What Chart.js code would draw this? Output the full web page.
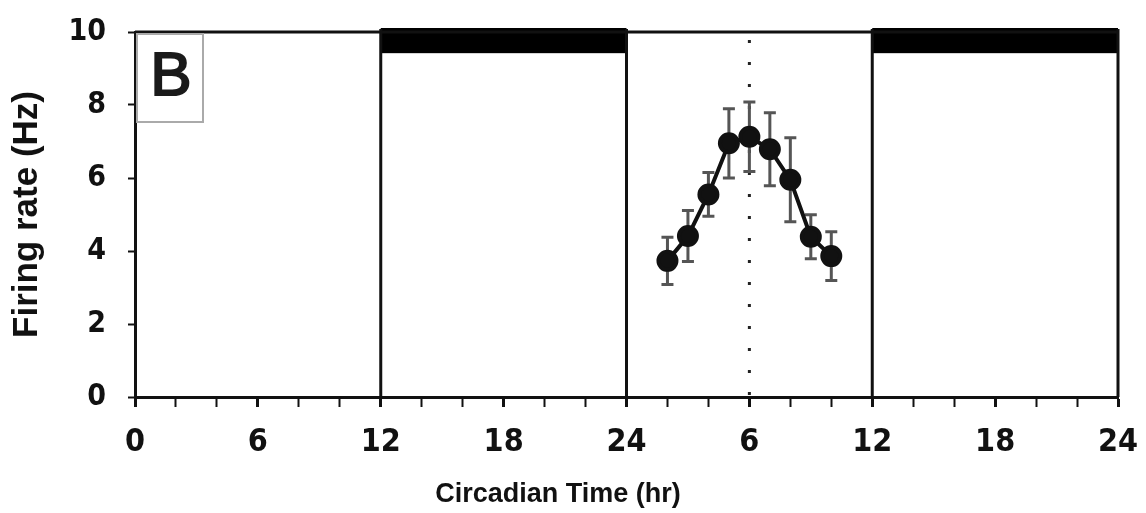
<!DOCTYPE html>
<html>
<head>
<meta charset="utf-8">
<script src="https://cdn.jsdelivr.net/npm/chart.js@4/dist/chart.umd.min.js"></script>
<style>
  html, body { margin: 0; padding: 0; background: #fff; }
  #wrap { width: 1146px; height: 513px; }
</style>
</head>
<body>
<div id="wrap"><canvas id="firingChart" width="1146" height="513"></canvas></div>
<script>
  // data (hours are double-plotted: 0-48)
  const tickLabels = ['0', '6', '12', '18', '24', '6', '12', '18', '24'];
  const hours = [26, 27, 28, 29, 30, 31, 32, 33, 34];
  const rate = [3.73, 4.41, 5.55, 6.95, 7.13, 6.79, 5.95, 4.39, 3.86];
  const sem = [0.65, 0.7, 0.6, 0.95, 0.95, 1.0, 1.15, 0.6, 0.67];
  const darkPeriods = [[12, 24], [36, 48]];
  const panelEdges = [12, 24, 36, 48];
  const peakTime = 30;
  const barTop = 10;
  const barBottom = 9.42;

  const tickFont = "'Liberation Sans Narrow', 'DejaVu Sans Condensed', 'Liberation Sans', sans-serif";

  // bands, panel borders, dotted peak line and error bars (behind the points)
  const decorPlugin = {
    id: 'decor',
    beforeDatasetsDraw(chart) {
      const { ctx, chartArea, scales } = chart;
      const x = scales.x, y = scales.y;
      ctx.save();

      // light/dark bars
      ctx.fillStyle = '#000';
      darkPeriods.forEach(([a, b]) => {
        const x0 = x.getPixelForValue(a), x1 = x.getPixelForValue(b);
        const y0 = y.getPixelForValue(barTop) - 4, y1 = y.getPixelForValue(barBottom);
        ctx.fillRect(x0, y0, x1 - x0, y1 - y0);
      });

      // top border
      ctx.strokeStyle = '#111';
      ctx.lineWidth = 3;
      ctx.beginPath();
      ctx.moveTo(chartArea.left, chartArea.top);
      ctx.lineTo(chartArea.right, chartArea.top);
      ctx.stroke();

      // panel borders
      panelEdges.forEach(h => {
        const px = x.getPixelForValue(h);
        ctx.beginPath();
        ctx.moveTo(px, chartArea.top - 3);
        ctx.lineTo(px, chartArea.bottom);
        ctx.stroke();
      });

      // dotted line at peak
      const pk = x.getPixelForValue(peakTime);
      ctx.setLineDash([3, 19]);
      ctx.lineWidth = 3;
      ctx.strokeStyle = '#222';
      ctx.beginPath();
      ctx.moveTo(pk, chartArea.top + 8);
      ctx.lineTo(pk, chartArea.bottom);
      ctx.stroke();
      ctx.setLineDash([]);

      // error bars
      ctx.strokeStyle = '#555';
      ctx.lineWidth = 3;
      hours.forEach((h, i) => {
        const px = x.getPixelForValue(h);
        const yt = y.getPixelForValue(rate[i] + sem[i]);
        const yb = y.getPixelForValue(rate[i] - sem[i]);
        ctx.beginPath();
        ctx.moveTo(px, yt); ctx.lineTo(px, yb);
        ctx.moveTo(px - 6, yt); ctx.lineTo(px + 6, yt);
        ctx.moveTo(px - 6, yb); ctx.lineTo(px + 6, yb);
        ctx.stroke();
      });

      // panel letter box
      ctx.strokeStyle = '#aaa';
      ctx.lineWidth = 2;
      ctx.strokeRect(chartArea.left + 2, chartArea.top + 2, 66, 88);
      ctx.fillStyle = '#1a1a1a';
      ctx.font = "62px 'Liberation Sans Narrow', 'Liberation Sans', sans-serif";
      ctx.textAlign = 'center';
      ctx.textBaseline = 'middle';
      ctx.fillText('B', chartArea.left + 36, chartArea.top + 46);
      ctx.lineWidth = 2;
      ctx.strokeStyle = '#1a1a1a';
      ctx.strokeText('B', chartArea.left + 36, chartArea.top + 46);

      ctx.restore();
    },
    afterDraw(chart) {
      const { ctx } = chart;
      ctx.save();
      ctx.fillStyle = '#111';
      ctx.font = "bold 27px 'Liberation Sans', Arial, sans-serif";
      ctx.textAlign = 'center';
      ctx.textBaseline = 'middle';
      ctx.fillText('Circadian Time (hr)', 558, 495);
      ctx.restore();
    }
  };

  const firingCtx = document.getElementById('firingChart').getContext('2d');
  const firingChart = new Chart(firingCtx, {
    type: 'line',
    data: {
      datasets: [{
        label: 'Firing rate',
        data: hours.map((h, i) => ({ x: h, y: rate[i] })),
        borderColor: '#111',
        borderWidth: 4,
        backgroundColor: '#111',
        pointRadius: 9,
        pointBackgroundColor: '#111',
        pointBorderColor: '#111',
        tension: 0,
      }]
    },
    options: {
      responsive: false,
      animation: false,
      layout: { padding: { top: 32, right: 28, left: 0, bottom: 0 } },
      plugins: {
        legend: { display: false },
        tooltip: { enabled: false }
      },
      scales: {
        x: {
          type: 'linear',
          min: 0,
          max: 48,
          afterFit: s => { s.height = 116; s.paddingRight = 0; s.paddingLeft = 0; },
          border: { display: true, color: '#111', width: 3 },
          grid: {
            drawOnChartArea: false,
            drawTicks: true,
            tickLength: 10,
            tickColor: '#111',
            tickWidth: c => (c.tick && c.tick.value % 6 === 0 ? 3 : 2),
          },
          ticks: {
            stepSize: 2,
            autoSkip: false,
            maxRotation: 0,
            padding: 16,
            color: '#111',
            font: { family: tickFont, weight: 'bold', size: 32 },
            callback: v => (v % 6 === 0 ? tickLabels[v / 6] : ''),
          }
        },
        y: {
          min: 0,
          max: 10,
          afterFit: s => { s.width = 135; s.paddingTop = 0; s.paddingBottom = 0; },
          border: { display: true, color: '#111', width: 3 },
          grid: {
            drawOnChartArea: false,
            drawTicks: true,
            tickLength: 7,
            tickColor: '#111',
            tickWidth: 2,
          },
          ticks: {
            stepSize: 2,
            padding: 22,
            color: '#111',
            font: { family: tickFont, weight: 'bold', size: 30 },
          },
          title: {
            display: true,
            text: 'Firing rate (Hz)',
            color: '#111',
            font: { family: "'Liberation Sans', Arial, sans-serif", weight: 'bold', size: 35 },
            padding: { top: 6, bottom: 0 }
          }
        }
      }
    },
    plugins: [decorPlugin]
  });
</script>
</body>
</html>
